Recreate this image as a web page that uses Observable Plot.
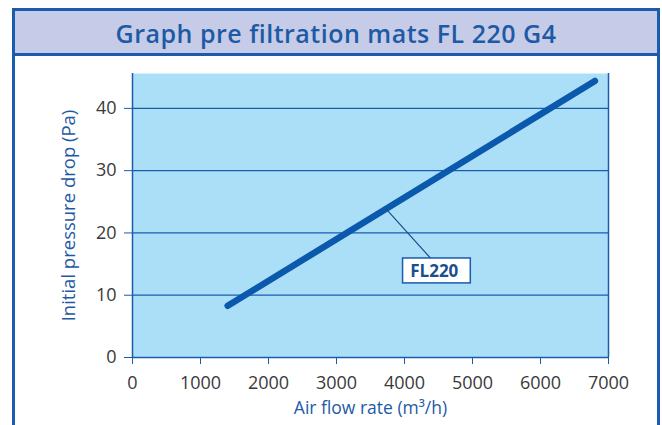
<!DOCTYPE html>
<html>
<head>
<meta charset="utf-8">
<script src="https://cdn.jsdelivr.net/npm/d3@7"></script>
<script src="https://cdn.jsdelivr.net/npm/@observablehq/plot@0.6"></script>
<style>
  body { margin: 0; background: #fff; }
  #wrap { position: relative; width: 662px; height: 425px; overflow: hidden; font-family: "Open Sans", sans-serif; }
  #chart { position: absolute; left: 0; top: 0; }
  #frame { position: absolute; left: 12px; top: 8px; width: 648px; height: 440px; border: 3px solid #1a5cab; box-sizing: border-box; }
  #title { position: absolute; left: 15px; top: 11px; width: 642px; height: 42px; background: #c6cce7; border-bottom: 3px solid #1a5cab;
           color: #1d5aa6; font-size: 25px; line-height: 44px; text-align: center; white-space: nowrap; overflow: hidden;
           letter-spacing: 0.5px; font-weight: 600; }
</style>
</head>
<body>
<div id="wrap">
  <div id="chart"></div>
  <div id="frame"></div>
  <div id="title">Graph pre filtration mats FL 220 G4</div>
</div>
<script>
// ---- data ----
const flowRate = [1400, 6800];          // m³/h
const pressureDrop = [8.3, 44.4];       // Pa
const seriesName = "FL220";
const xTicks = [0, 1000, 2000, 3000, 4000, 5000, 6000, 7000];
const yTicks = [0, 10, 20, 30, 40];
const xLabel = "Air flow rate (m³/h)";
const yLabel = "Initial pressure drop (Pa)";
// annotation (data units)
const leaderX = [3725, 4387];
const leaderY = [23.9, 15.9];
const boxX = [3979, 4975];
const boxY = [11.9, 15.9];
const labelPos = [4438, 13.85];

const blue = "#1a5cab";
const data = flowRate.map((x, i) => ({ x, y: pressureDrop[i] }));
const leader = leaderX.map((x, i) => ({ x, y: leaderY[i] }));

const chart = Plot.plot({
  width: 662,
  height: 425,
  marginLeft: 132,
  marginRight: 54,
  marginTop: 73,
  marginBottom: 68,
  style: { background: "transparent", fontFamily: "Open Sans, sans-serif", fontSize: "18px", color: "#3a3a3a" },
  x: { domain: [0, 7000] },
  y: { domain: [0, 45.6] },
  marks: [
    Plot.frame({ fill: "#abdff7", stroke: null }),
    Plot.gridY(yTicks.filter(d => d > 0), { stroke: blue, strokeOpacity: 1, strokeWidth: 1.2 }),
    Plot.ruleX([7000], { stroke: blue, strokeWidth: 1.5 }),
    Plot.axisX({ ticks: xTicks, tickSize: 7, tickPadding: 12, stroke: blue, fill: "#3a3a3a", label: null, tickFormat: d => String(d) }),
    Plot.axisY({ ticks: yTicks, tickSize: 8, tickPadding: 8, stroke: blue, fill: "#3a3a3a", label: null }),
    Plot.ruleX([0], { stroke: blue, strokeWidth: 1.5 }),
    Plot.ruleY([0], { stroke: blue, strokeWidth: 1.5 }),
    Plot.line(data, { x: "x", y: "y", stroke: "#0b59ac", strokeWidth: 6.5, strokeLinecap: "round" }),
    Plot.line(leader, { x: "x", y: "y", stroke: "#1a4f8f", strokeWidth: 1.2 }),
    Plot.rect([0], { x1: () => boxX[0], x2: () => boxX[1], y1: () => boxY[0], y2: () => boxY[1], fill: "white", stroke: blue, strokeWidth: 1.5 }),
    Plot.text([seriesName], { x: () => labelPos[0], y: () => labelPos[1], text: d => d, fill: "#1a4f8f", fontWeight: "bold", fontSize: 17 }),
    Plot.text([xLabel], { frameAnchor: "bottom", text: d => d, dy: 56, fill: "#1d5aa6", fontSize: 17.5, fontWeight: 500 }),
    Plot.text([yLabel], { frameAnchor: "left", textAnchor: "middle", text: d => d, dx: -63, rotate: -90, fill: "#1d5aa6", fontSize: 18.5, fontWeight: 500 })
  ]
});
document.getElementById("chart").appendChild(chart);
</script>
</body>
</html>
